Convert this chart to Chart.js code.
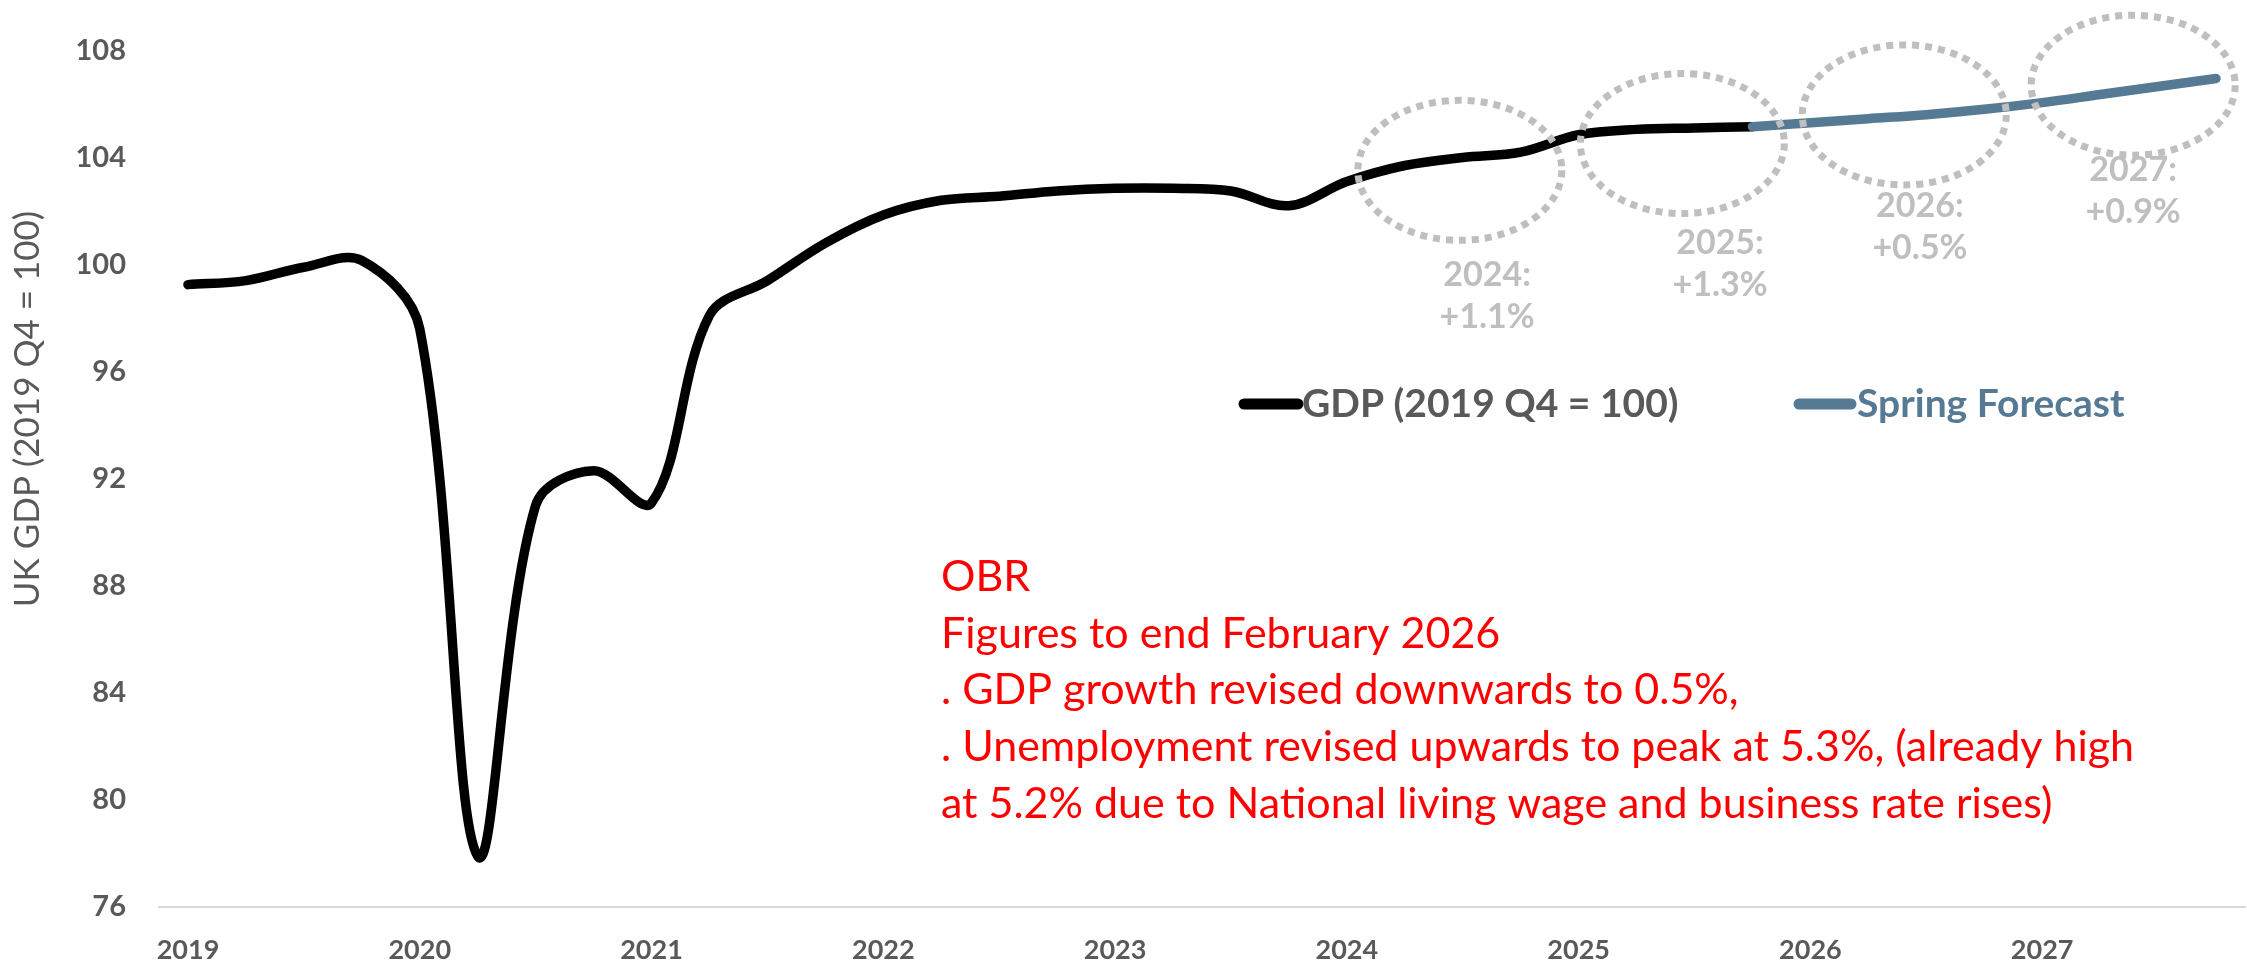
<!DOCTYPE html>
<html>
<head>
<meta charset="utf-8">
<script src="https://cdn.jsdelivr.net/npm/chart.js@4.4.1/dist/chart.umd.min.js"></script>
<style>
  html, body { margin: 0; padding: 0; background: #ffffff; overflow: hidden; }
  #c { display: block; }
</style>
</head>
<body>
<canvas id="c" width="2247" height="976"></canvas>
<script>
// ---- data ----
const categories = [
  'Q1 2019','Q2 2019','Q3 2019','Q4 2019',
  'Q1 2020','Q2 2020','Q3 2020','Q4 2020',
  'Q1 2021','Q2 2021','Q3 2021','Q4 2021',
  'Q1 2022','Q2 2022','Q3 2022','Q4 2022',
  'Q1 2023','Q2 2023','Q3 2023','Q4 2023',
  'Q1 2024','Q2 2024','Q3 2024','Q4 2024',
  'Q1 2025','Q2 2025','Q3 2025','Q4 2025',
  'Q1 2026','Q2 2026','Q3 2026','Q4 2026',
  'Q1 2027','Q2 2027','Q3 2027','Q4 2027'
];
const gdpValues = [
  99.25, 99.4, 99.9, 100.15,
  97.6, 77.9, 91.0, 92.3,
  91.1, 98.1, 99.4, 100.8,
  101.85, 102.4, 102.55, 102.75,
  102.85, 102.85, 102.75, 102.2,
  103.1, 103.7, 104.0, 104.2,
  104.85, 105.05, 105.1, 105.15,
  null, null, null, null,
  null, null, null, null
];
const forecastValues = [
  null, null, null, null,
  null, null, null, null,
  null, null, null, null,
  null, null, null, null,
  null, null, null, null,
  null, null, null, null,
  null, null, null, 105.15,
  105.3, 105.45, 105.6, 105.8,
  106.05, 106.35, 106.65, 106.95
];
const yTickValues = [76, 80, 84, 88, 92, 96, 100, 104, 108];
const seriesNames = ['GDP (2019 Q4 = 100)', 'Spring Forecast'];
const yAxisTitle = 'UK GDP (2019 Q4 = 100)';
const growthYears = ['2024:', '2025:', '2026:', '2027:'];
const growthRates = ['+1.1%', '+1.3%', '+0.5%', '+0.9%'];
const noteLines = [
  'OBR',
  'Figures to end February 2026',
  '. GDP growth revised downwards to 0.5%,',
  '. Unemployment revised upwards to peak at 5.3%, (already high',
  'at 5.2% due to National living wage and business rate rises)'
];

// ---- annotation placement (data space) ----
const ellipseAt = [
  { i: 21.95, v: 103.52 },
  { i: 25.79, v: 104.52 },
  { i: 29.62, v: 105.59 },
  { i: 33.57, v: 106.70 }
];
const growthLabelAt = [
  { i: 22.42, v: 99.59 },
  { i: 26.44, v: 100.81 },
  { i: 29.89, v: 102.19 },
  { i: 33.57, v: 103.52 }
];

const FONT = 'Lato';
const AXIS_GREY = '#595959';
const GDP_COLOR = '#000000';
const FC_COLOR = '#577a94';

const overlay = {
  id: 'overlay',
  afterDatasetsDraw(chart) {
    const { ctx, scales: { x, y } } = chart;
    ctx.save();
    // dotted ellipses
    ctx.strokeStyle = '#bfbfbf';
    ctx.lineWidth = 7;
    ctx.setLineDash([7, 6]);
    ellipseAt.forEach(e => {
      ctx.beginPath();
      ctx.ellipse(x.getPixelForValue(e.i), y.getPixelForValue(e.v), 102, 70, 0, 0, Math.PI * 2);
      ctx.stroke();
    });
    ctx.setLineDash([]);
    // growth labels
    ctx.fillStyle = '#bfbfbf';
    ctx.font = 'bold 34px ' + FONT;
    ctx.textAlign = 'center';
    ctx.textBaseline = 'middle';
    growthLabelAt.forEach((p, k) => {
      const px = x.getPixelForValue(p.i);
      const py = y.getPixelForValue(p.v);
      ctx.fillText(growthYears[k], px, py);
      ctx.fillText(growthRates[k], px, py + 42);
    });
    ctx.restore();
  },
  afterDraw(chart) {
    const { ctx, chartArea } = chart;
    ctx.save();
    // y axis title
    ctx.save();
    ctx.translate(28, 409);
    ctx.rotate(-Math.PI / 2);
    ctx.fillStyle = AXIS_GREY;
    ctx.font = '35px ' + FONT;
    ctx.textAlign = 'center';
    ctx.textBaseline = 'middle';
    ctx.fillText(yAxisTitle, 0, 0);
    ctx.restore();
    // legend
    const items = [
      { x0: 1244, x1: 1298, tx: 1302, textColor: AXIS_GREY },
      { x0: 1799, x1: 1851, tx: 1857, textColor: FC_COLOR }
    ];
    ctx.lineCap = 'round';
    ctx.textAlign = 'left';
    ctx.textBaseline = 'middle';
    ctx.font = 'bold 39px ' + FONT;
    items.forEach((it, k) => {
      ctx.strokeStyle = chart.data.datasets[k].borderColor;
      ctx.lineWidth = 11;
      ctx.beginPath();
      ctx.moveTo(it.x0, 404);
      ctx.lineTo(it.x1, 404);
      ctx.stroke();
      ctx.fillStyle = it.textColor;
      ctx.fillText(chart.data.datasets[k].label, it.tx, 404);
    });
    // red note
    ctx.fillStyle = '#ff0000';
    ctx.font = '43px ' + FONT;
    noteLines.forEach((t, k) => ctx.fillText(t, 941, 577 + k * 56.7));
    ctx.restore();
  }
};

new Chart(document.getElementById('c'), {
  type: 'line',
  data: {
    labels: categories,
    datasets: [
      {
        label: seriesNames[0],
        data: gdpValues,
        borderColor: GDP_COLOR,
        backgroundColor: GDP_COLOR,
        borderWidth: 9.5,
        pointRadius: 0,
        tension: 0.35,
        borderCapStyle: 'round',
        borderJoinStyle: 'round',
        fill: false,
        order: 1
      },
      {
        label: seriesNames[1],
        data: forecastValues,
        borderColor: FC_COLOR,
        backgroundColor: FC_COLOR,
        borderWidth: 9.5,
        pointRadius: 0,
        tension: 0.35,
        borderCapStyle: 'round',
        borderJoinStyle: 'round',
        fill: false,
        order: 0
      }
    ]
  },
  options: {
    responsive: false,
    animation: false,
    devicePixelRatio: 1,
    layout: { padding: { left: 0, right: 2, top: 43, bottom: 0 } },
    plugins: { legend: { display: false }, tooltip: { enabled: false } },
    scales: {
      x: {
        type: 'category',
        offset: true,
        grid: { display: false, drawTicks: false },
        border: { display: true, color: '#d9d9d9', width: 2 },
        ticks: {
          autoSkip: false,
          maxRotation: 0,
          minRotation: 0,
          padding: 27,
          color: AXIS_GREY,
          font: { family: FONT, size: 27, weight: 'bold' },
          callback: function (val, idx) {
            const c = categories[idx];
            return c.startsWith('Q1') ? c.slice(3) : '';
          }
        },
        afterFit(s) { s.height = 69; }
      },
      y: {
        min: yTickValues[0],
        max: yTickValues[yTickValues.length - 1],
        grid: { display: false, drawTicks: false },
        border: { display: false },
        afterBuildTicks(s) { s.ticks = yTickValues.map(v => ({ value: v })); },
        ticks: {
          padding: 33,
          color: AXIS_GREY,
          font: { family: FONT, size: 29, weight: 'bold' }
        },
        title: { display: false },
        afterFit(s) { s.width = 159; }
      }
    }
  },
  plugins: [overlay]
});
</script>
</body>
</html>
